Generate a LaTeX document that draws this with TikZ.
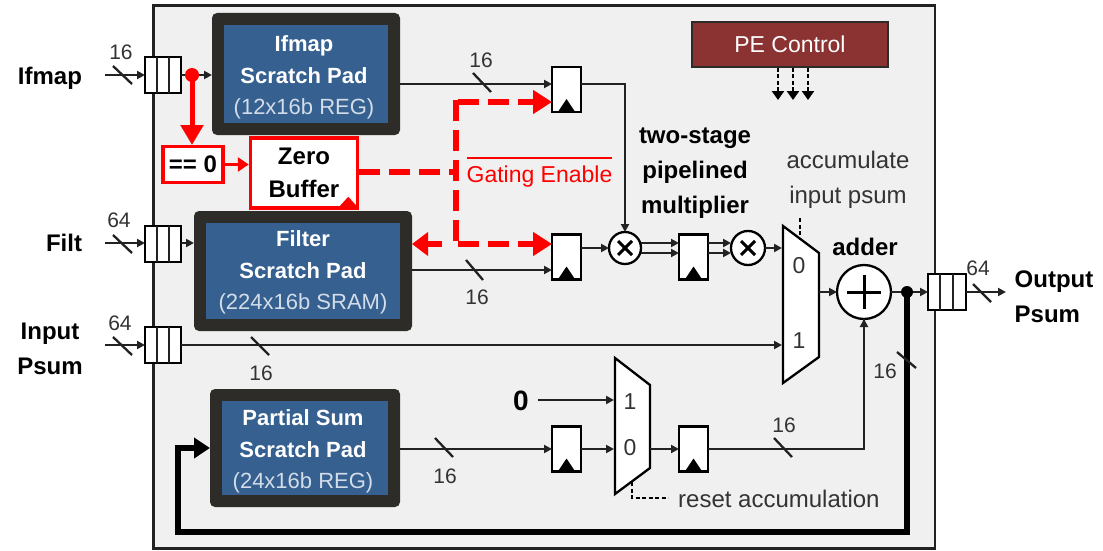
\documentclass[tikz,border=0pt]{standalone}
\usepackage{fontspec}
\setmainfont{Liberation Sans}
\usetikzlibrary{arrows.meta,calc}
\definecolor{framefill}{HTML}{F0F0F0}
\definecolor{darkedge}{HTML}{2D2C28}
\definecolor{padblue}{HTML}{35608F}
\definecolor{ctrlred}{HTML}{8B3232}
\definecolor{wiregray}{HTML}{222222}
\definecolor{txtgray}{HTML}{333333}
\definecolor{pale}{HTML}{D3DDE9}
\newcommand{\fs}[2]{\fontsize{#1}{#2}\selectfont}
\tikzset{
  x=1pt,y=-1pt,
  wire/.style={draw=wiregray,line width=2.3pt},
  arr/.style={wire,-{Triangle[length=8pt,width=8pt]}},
  tick/.style={draw=wiregray,line width=2.3pt},
  redarr/.style={draw=red,line width=5pt,-{Triangle[length=20pt,width=22pt]}},
  reddash/.style={draw=red,line width=6pt,dash pattern=on 21pt off 9pt},
  dashtip/.style={reddash,-{Triangle[length=19pt,width=23pt]}},
  ctrl/.style={draw=black,line width=2.3pt,dash pattern=on 4pt off 2.5pt},
  outerpad/.style={fill=darkedge,rounded corners=5pt,inner sep=0pt,outer sep=0pt},
  padfill/.style={fill=padblue,inner sep=0pt,outer sep=0pt},
  padtext/.style={text=white,inner sep=0pt,align=center,font=\fs{22}{31.5}},
  queue/.style={draw=black,fill=white,line width=2.3pt,minimum width=36pt,minimum height=36pt,inner sep=0pt,outer sep=0pt},
  dff/.style={draw=black,fill=white,line width=2.3pt,minimum width=29pt,minimum height=45pt,inner sep=0pt,outer sep=0pt},
  opcircle/.style={circle,draw=black,fill=white,line width=2.3pt,inner sep=0pt,outer sep=0pt},
  blbl/.style={font=\fs{24}{35}\bfseries,align=center,text=black,inner sep=0pt},
  rlbl/.style={font=\fs{24}{35},align=center,text=txtgray,inner sep=0pt},
  num/.style={font=\fs{21}{21},text=txtgray,inner sep=0pt},
  muxnum/.style={font=\fs{23}{23},text=txtgray,inner sep=0pt},
  mux/.style={draw=black,fill=white,line width=2.3pt,line join=miter},
}
\begin{document}
\begin{tikzpicture}
\useasboundingbox (0,0) rectangle (1103,551);
\fill[white] (0,0) rectangle (1103,551);
% frame
\draw[fill=framefill,draw=wiregray,line width=2.5pt] (153.5,5.5) rectangle (935,548.5);

% scratch pads
\node[outerpad,minimum width=188pt,minimum height=122pt] (ispo) at (306,74) {};
\node[padfill,minimum width=164pt,minimum height=98pt] (isp) at (306,74) {};
\node[padtext] (ispt) at (304,77.5) {\bfseries Ifmap\\\bfseries Scratch Pad\\\color{pale}(12x16b REG)};
\node[outerpad,minimum width=218pt,minimum height=120pt] (fspo) at (303,271) {};
\node[padfill,minimum width=194pt,minimum height=96pt] (fsp) at (303,271) {};
\node[padtext] (fspt) at (303,272.5) {\bfseries Filter\\\bfseries Scratch Pad\\\color{pale}(224x16b SRAM)};
\node[outerpad,minimum width=190pt,minimum height=118pt] (psp) at (305,448) {};
\node[padfill,minimum width=166pt,minimum height=94pt] (pspi) at (305,448) {};
\node[padtext] (pspt) at (303,451.5) {\bfseries Partial Sum\\\bfseries Scratch Pad\\\color{pale}(24x16b REG)};

% PE control
\node[draw=darkedge,fill=ctrlred,line width=1.5pt,minimum width=196pt,minimum height=45pt,inner sep=0pt,text=white,font=\fs{23}{23}] (ctl) at (790,44.5) {PE Control};
\foreach \n/\px in {ca/778,cb/793,cc/808}{
  \coordinate (\n) at (\px,100);
  \draw[ctrl,-{Triangle[length=9pt,width=12pt]}] (ctl.south -| \n) -- (\n);
}

% queues
\node[queue] (qi) at (163,75) {};
\node[queue] (qf) at (163,244) {};
\node[queue] (qp) at (163,345) {};
\node[queue,minimum width=38pt] (qo) at (947,292) {};
\foreach \n in {qi,qf,qp}{
  \draw[wire] ($(\n.north west)+(12,0)$) -- ($(\n.south west)+(12,0)$);
  \draw[wire] ($(\n.north west)+(24,0)$) -- ($(\n.south west)+(24,0)$);
}
\draw[wire] ($(qo.north west)+(12,0)$) -- ($(qo.south west)+(12,0)$);
\draw[wire] ($(qo.north west)+(25,0)$) -- ($(qo.south west)+(25,0)$);

% flip-flops
\node[dff] (d1) at (566.5,89.5) {};
\node[dff] (d2) at (566.5,257) {};
\node[dff] (d3) at (693.5,257) {};
\node[dff] (d4) at (566.5,449) {};
\node[dff] (d5) at (693.5,449) {};
\foreach \n in {d1,d2,d3,d4,d5}{
  \fill[black] ($(\n.south)+(-8,-1)$) -- ($(\n.south)+(0,-13)$) -- ($(\n.south)+(8,-1)$) -- cycle;
}

% operators
\node[opcircle,minimum size=32pt] (m1) at (625,248) {};
\node[opcircle,minimum size=34pt] (m2) at (748,248) {};
\node[opcircle,minimum size=54pt] (add) at (864,292) {};
\foreach \n in {m1,m2}{
  \draw[black,line width=3pt] ($(\n)+(-7,-7)$) -- ($(\n)+(7,7)$);
  \draw[black,line width=3pt] ($(\n)+(7,-7)$) -- ($(\n)+(-7,7)$);
}
\draw[black,line width=3pt] ($(add)+(-17,0)$) -- ($(add)+(17,0)$);
\draw[black,line width=3pt] ($(add)+(0,-17)$) -- ($(add)+(0,17)$);

% muxes
\draw[mux] (783,226) coordinate (mxa) -- (819,253) -- (819,357) -- (783,383) coordinate (mxb) -- cycle;
\draw[mux] (615,358) coordinate (mya) -- (650,385) -- (650,468) -- (615,494) coordinate (myb) -- cycle;
\node[muxnum] (mx0) at (799,266) {0};
\node[muxnum] (mx1) at (799,341) {1};
\node[muxnum] (my1) at (630,402) {1};
\node[muxnum] (my0) at (630,448) {0};
\coordinate (mxin0) at (782,248);
\coordinate (mxin1) at (782,345);
\coordinate (mxout) at (819,292);
\coordinate (myin1) at (614,400);
\coordinate (myin0) at (614,449);
\coordinate (myout) at (650,449);

% inputs and outputs
\node[blbl] (lif) at (50,78) {Ifmap};
\node[blbl] (lfi) at (64,243) {Filt};
\node[blbl] (lin) at (50,349) {Input\\[-0.4pt]Psum};
\node[blbl,align=left] (lout) at (1054,297) {Output\\[-0.4pt]Psum};
\coordinate (iif) at (105,75);
\coordinate (ifi) at (105,243);
\coordinate (iin) at (105,345);
\coordinate (oout) at (1006,292);
\draw[arr] (iif) -- (qi.west |- iif);
\draw[arr] (ifi) -- (qf.west |- ifi);
\draw[arr] (iin) -- (qp.west |- iin);
\draw[arr] (qo.east |- oout) -- (oout);

% wires
\draw[arr] (qi.east |- iif) -- (ispo.west |- iif);
\draw[arr] (qf.east |- ifi) -- (fspo.west |- ifi);
\coordinate (w1) at (552,84);
\coordinate (w2) at (552,270);
\draw[arr] (ispo.east |- w1) -- (w1);
\draw[arr] (fspo.east |- w2) -- (w2);
\draw[arr] (d1.east |- w1) -| (m1.north);
\draw[arr] (d2.east |- m1) -- (m1.west);
\coordinate (up) at (0,243);
\coordinate (lo) at (0,253);
\draw[arr] (m1.east |- up) -- (d3.west |- up);
\draw[arr] (m1.east |- lo) -- (d3.west |- lo);
\draw[arr] (d3.east |- up) -- (m2.west |- up);
\draw[arr] (d3.east |- lo) -- (m2.west |- lo);
\draw[arr] (m2.east) -- (mxin0);
\draw[arr] (qp.east |- mxin1) -- (mxin1);
\draw[arr] (mxout) -- (add.west);
\draw[arr] (add.east) -- (qo.west |- add);
\draw[arr] (psp.east |- d4) -- (d4.west);
\draw[arr] (d4.east) -- (myin0);
\draw[arr] (myout) -- (d5.west);
\draw[wire] (d5.east) -| (add.south);
\draw[arr] (864,335) -- (add.south);
\node[font=\fs{28}{28}\bfseries,inner sep=0pt] (zero) at (521,401) {0};
\draw[arr] (538,400) -- (myin1);

% feedback
\coordinate (fb) at (907,292);
\coordinate (fbb) at (907,532);
\coordinate (fbl) at (178,532);
\fill[black] (fb) circle (6pt);
\draw[black,line width=5.5pt,-{Triangle[length=16pt,width=20pt]},line join=miter] (fb) -- (fbb) -- (fbl) -- (178,448) -- (psp.west);

% bus ticks
\foreach \ax/\ay/\bx/\by in {113/66/132/84, 113/235/132/253, 113/337/132/355, 973/284/991/302,
  473/73/491/92, 466/260/483/280, 251/337/269/355, 435/438/453/457, 774/438/792/457, 897/352/916/368}{
  \draw[tick] (\ax,\ay) -- (\bx,\by);
}
\foreach \nm/\px/\py/\t in {na/121/52/16, nb/119/220/64, nc/120/323/64, nd/978/268/64, ne/481/60/16, nf/477/297/16, ng/261/373/16, nh/445/476/16, ni/784/425/16, nj/885/371/16}{
  \node[num] (\nm) at (\px,\py) {\t};
}

% labels
\node[blbl] (mult) at (695,173) {two-stage\\pipelined\\multiplier};
\node[blbl] (addl) at (865,247) {adder};
\node[rlbl] (acc) at (848,180) {accumulate\\input psum};
\node[rlbl,anchor=west] (rst) at (678,499) {reset accumulation};
\coordinate (csel) at (800,218);
\draw[ctrl] (csel) -- (800,240);
\coordinate (rsel) at (632,482);
\coordinate (rend) at (668,498);
\draw[ctrl] (rsel) |- (rend);

% zero gating
\node[draw=red,fill=white,line width=3.5pt,minimum width=60pt,minimum height=36pt,inner sep=0pt,font=\fs{24}{24}\bfseries] (eq) at (193,164.5) {== 0};
\node[draw=red,fill=white,line width=3.5pt,minimum width=107pt,minimum height=70pt,inner sep=0pt,align=center,font=\fs{24}{33}\bfseries] (zb) at (304,173) {Zero\\Buffer};
\fill[red] ($(zb.south east)+(-21,-2)$) -- ($(zb.south east)+(-11,-13)$) -- ($(zb.south east)+(-1,-2)$) -- cycle;
\fill[red] (192,75) circle (7pt);
\draw[redarr] (192,75) -- (192,145);
\draw[draw=red,line width=3.5pt,-{Triangle[length=11pt,width=14pt]}] (eq.east) -- (zb.west |- eq);
\coordinate (gt) at (456,100);
\coordinate (gb) at (456,244);
\coordinate (gz) at (456,172);
\draw[reddash] (zb.east |- gz) -- (gz);
\draw[reddash] (gt) -- (gb);
\draw[dashtip] (458,102) -- (d1.west |- 0,102);
\draw[dashtip] (458,244) -- (d2.west |- gb);
\draw[draw=red,line width=6pt,-{Triangle[length=16pt,width=23pt]}] (442,244) -- (fspo.east |- gb);
\node[font=\fs{23}{23},text=red,inner sep=0pt] (gate) at (539.5,177) {Gating Enable};
\draw[red,line width=1.5pt] (467,158) -- (612,158);
\end{tikzpicture}
\end{document}
